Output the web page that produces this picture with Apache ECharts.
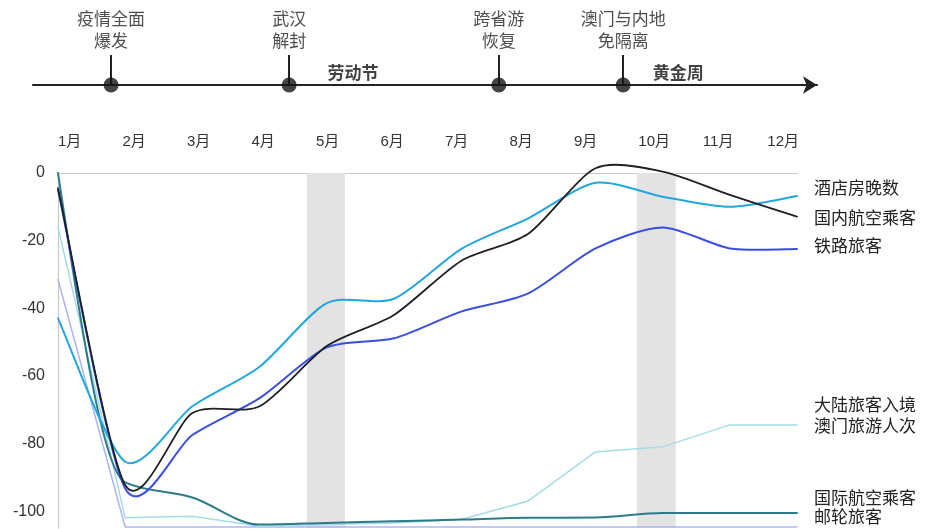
<!DOCTYPE html>
<html>
<head>
<meta charset="utf-8">
<script src="https://cdn.jsdelivr.net/npm/echarts@6/dist/echarts.min.js"></script>
<style>
  html, body { margin: 0; padding: 0; background: #ffffff; }
  #chart { width: 941px; height: 529px; }
</style>
</head>
<body>
<div id="chart"></div>
<script>
// Month index of each data point (0 = 1月 … 11 = 12月)
const monthIndex = [0, 1, 2, 3, 4, 5, 6, 7, 8, 9, 10, 11];
const monthLabels = ['1月', '2月', '3月', '4月', '5月', '6月', '7月', '8月', '9月', '10月', '11月', '12月'];

// Year-on-year change, %
const hotelNights   = [-43, -85.4, -69, -57.3, -38.5, -37.2, -22.5, -13.4, -2.9, -7, -10, -6.8];
const domesticAir   = [-4.5, -92.3, -71, -69, -51.2, -42, -26, -18, 1.4, 0.4, -6.5, -12.9];
const railPassenger = [-5, -93.3, -77.5, -66.6, -51.6, -48.9, -41, -35.6, -22.3, -16.1, -22.3, -22.5];
const macauVisitors = [-16, -102, -101.5, -104.5, -104, -103.5, -102.5, -97, -82.5, -81, -74.5, -74.5];
const intlAir       = [0, -91.5, -96, -104, -103.5, -103, -102.5, -102, -101.9, -100.6, -100.6, -100.6];
const cruise        = [-31.5, -104.7, -104.7, -104.7, -104.7, -104.7, -104.7, -104.7, -104.7, -104.7, -104.7, -104.7];

const yTicks = [0, -20, -40, -60, -80, -100];

// Timeline events (position in months from the start of January)
const eventNames = ['疫情全面\n爆发', '武汉\n解封', '跨省游\n恢复', '澳门与内地\n免隔离'];
const eventPos   = [0.79, 3.44, 6.56, 8.41];

// Holiday periods
const holidayNames  = ['劳动节', '黄金周'];
const holidayLabelX = [4.39, 9.23];
const holidayBands  = [[3.705, 4.271], [8.616, 9.196]];

const FONT = "'Liberation Sans', 'Noto Sans CJK SC', sans-serif";
const CJK = "'Noto Sans CJK SC', sans-serif";

// Cardinal-spline tension used for the smoothed curves
const TENSION = 0.13;

function pairs(values) {
  return monthIndex.map((m, i) => [m, values[i]]);
}

// Cardinal spline through pixel points
function cardinalPath(pts) {
  let d = 'M' + pts[0][0] + ',' + pts[0][1];
  const n = pts.length;
  for (let i = 0; i < n - 1; i++) {
    const p0 = pts[Math.max(i - 1, 0)];
    const p1 = pts[i];
    const p2 = pts[i + 1];
    const p3 = pts[Math.min(i + 2, n - 1)];
    const c1x = p1[0] + TENSION * (p2[0] - p0[0]);
    const c1y = p1[1] + TENSION * (p2[1] - p0[1]);
    const c2x = p2[0] - TENSION * (p3[0] - p1[0]);
    const c2y = p2[1] - TENSION * (p3[1] - p1[1]);
    d += ' C' + c1x + ',' + c1y + ' ' + c2x + ',' + c2y + ' ' + p2[0] + ',' + p2[1];
  }
  return d;
}

// Monotone cubic (no overshoot) through pixel points
function monotonePath(pts) {
  const n = pts.length;
  const sgn = v => (v < 0 ? -1 : 1);
  const sec = [];
  for (let i = 0; i < n - 1; i++) {
    sec.push((pts[i + 1][1] - pts[i][1]) / (pts[i + 1][0] - pts[i][0]));
  }
  const t = new Array(n);
  for (let i = 1; i < n - 1; i++) {
    const h0 = pts[i][0] - pts[i - 1][0];
    const h1 = pts[i + 1][0] - pts[i][0];
    const s0 = sec[i - 1], s1 = sec[i];
    const p = (s0 * h1 + s1 * h0) / (h0 + h1);
    t[i] = (sgn(s0) + sgn(s1)) * Math.min(Math.abs(s0), Math.abs(s1), 0.5 * Math.abs(p)) || 0;
  }
  t[0] = (3 * sec[0] - t[1]) / 2;
  t[n - 1] = (3 * sec[n - 2] - t[n - 2]) / 2;
  let d = 'M' + pts[0][0] + ',' + pts[0][1];
  for (let i = 0; i < n - 1; i++) {
    const dx = (pts[i + 1][0] - pts[i][0]) / 3;
    d += ' C' + (pts[i][0] + dx) + ',' + (pts[i][1] + dx * t[i]) + ' ' +
         (pts[i + 1][0] - dx) + ',' + (pts[i + 1][1] - dx * t[i + 1]) + ' ' +
         pts[i + 1][0] + ',' + pts[i + 1][1];
  }
  return d;
}

function linearPath(pts) {
  return pts.map((p, i) => (i ? 'L' : 'M') + p[0] + ',' + p[1]).join(' ');
}

function buildPath(pts, curve) {
  if (curve === 'cardinal') return cardinalPath(pts);
  if (curve === 'monotone') return monotonePath(pts);
  return linearPath(pts);
}

function curveSeries(name, values, color, width, curve, labelText, dy) {
  return {
    name: name,
    type: 'custom',
    xAxisIndex: 0,
    yAxisIndex: 0,
    data: pairs(values),
    encode: { x: 0, y: 1 },
    clip: false,
    silent: true,
    z: 3,
    renderItem: function (params, api) {
      if (params.dataIndex !== 0) return null;
      const pts = monthIndex.map((m, i) => api.coord([m, values[i]]));
      const last = pts[pts.length - 1];
      return {
        type: 'group',
        children: [
          {
            type: 'path',
            shape: { pathData: buildPath(pts, curve) },
            style: { fill: 'none', stroke: color, lineWidth: width, lineJoin: 'round', lineCap: 'round' }
          },
          {
            type: 'text',
            x: last[0] + 17,
            y: last[1] + dy,
            style: {
              text: labelText,
              fill: '#222',
              fontFamily: CJK,
              fontSize: 17,
              lineHeight: 21,
              align: 'left',
              verticalAlign: 'middle'
            }
          }
        ]
      };
    }
  };
}

const chart = echarts.init(document.getElementById('chart'), null, { renderer: 'canvas' });

const series = [
  {
    // holiday shading
    type: 'line',
    xAxisIndex: 0,
    yAxisIndex: 0,
    data: [],
    silent: true,
    markArea: {
      silent: true,
      itemStyle: { color: '#e3e3e3' },
      data: holidayBands.map(b => [{ xAxis: b[0] }, { xAxis: b[1] }])
    },
    z: 1
  },
  curveSeries('邮轮旅客', cruise, '#aab6f3', 1.5, 'linear', '邮轮旅客', -10),
  curveSeries('大陆旅客入境澳门旅游人次', macauVisitors, '#a6dbe6', 1.5, 'linear', '大陆旅客入境\n澳门旅游人次', -10),
  curveSeries('国际航空乘客', intlAir, '#2b7b88', 2, 'monotone', '国际航空乘客', -16),
  curveSeries('铁路旅客', railPassenger, '#3a4ee0', 2, 'cardinal', '铁路旅客', -4),
  curveSeries('酒店房晚数', hotelNights, '#22a6e0', 2, 'cardinal', '酒店房晚数', -8),
  curveSeries('国内航空乘客', domesticAir, '#1b2126', 1.8, 'cardinal', '国内航空乘客', 1),
  {
    // timeline event dots + stems
    type: 'scatter',
    xAxisIndex: 2,
    yAxisIndex: 1,
    data: eventPos.map(p => [p, 0]),
    symbol: 'circle',
    symbolSize: 15,
    itemStyle: { color: '#151515' },
    silent: true,
    z: 5,
    markLine: {
      silent: true,
      symbol: 'none',
      label: { show: false },
      lineStyle: { color: '#222', width: 2, type: 'solid' },
      data: eventPos.map(p => [{ coord: [p, 0] }, { coord: [p, 1] }])
    }
  },
  {
    // timeline event captions
    type: 'scatter',
    xAxisIndex: 2,
    yAxisIndex: 1,
    data: eventPos.map((p, i) => ({ value: [p, 1], name: eventNames[i] })),
    symbolSize: 0,
    silent: true,
    label: {
      show: true,
      position: 'top',
      distance: 3,
      formatter: p => p.name,
      color: '#222',
      fontFamily: CJK,
      fontSize: 17,
      lineHeight: 22,
      align: 'center'
    }
  },
  {
    // holiday captions
    type: 'scatter',
    xAxisIndex: 2,
    yAxisIndex: 1,
    data: holidayLabelX.map((p, i) => ({ value: [p, 0.43], name: holidayNames[i] })),
    symbolSize: 0,
    silent: true,
    label: {
      show: true,
      position: 'inside',
      formatter: p => p.name,
      color: '#111',
      fontFamily: CJK,
      fontSize: 17,
      fontWeight: 'bold'
    }
  }
];

chart.setOption({
  animation: false,
  backgroundColor: '#ffffff',
  grid: [
    { left: 58, right: 144, top: 173, bottom: 1, containLabel: false },
    { left: 33, right: 124, top: 55, height: 30, containLabel: false }
  ],
  xAxis: [
    {
      // data axis
      type: 'value',
      gridIndex: 0,
      position: 'top',
      min: 0,
      max: 11,
      axisLine: { show: true, onZero: false, lineStyle: { color: '#c9c9c9', width: 1.2 } },
      axisTick: { show: false },
      axisLabel: { show: false },
      splitLine: { show: false }
    },
    {
      // month labels
      type: 'value',
      gridIndex: 0,
      position: 'top',
      min: 0,
      max: 11.46,
      interval: 1,
      axisLine: { show: false },
      axisTick: { show: false },
      splitLine: { show: false },
      axisLabel: {
        show: true,
        margin: 24,
        align: 'left',
        color: '#333',
        fontFamily: FONT,
        fontSize: 15,
        showMaxLabel: false,
        formatter: v => (Number.isInteger(v) && monthLabels[v]) ? monthLabels[v] : ''
      }
    },
    {
      // timeline axis
      type: 'value',
      gridIndex: 1,
      position: 'bottom',
      min: -0.372,
      max: 11.295,
      axisLine: {
        show: true,
        onZero: false,
        symbol: ['none', 'arrow'],
        symbolSize: [13, 14],
        lineStyle: { color: '#222', width: 2 }
      },
      axisTick: { show: false },
      axisLabel: { show: false },
      splitLine: { show: false }
    }
  ],
  yAxis: [
    {
      type: 'value',
      gridIndex: 0,
      min: -105,
      max: 0,
      axisLine: { show: true, onZero: false, lineStyle: { color: '#c9c9c9', width: 1.2 } },
      axisTick: { show: false },
      splitLine: { show: false },
      axisLabel: {
        show: true,
        customValues: yTicks,
        margin: 13,
        padding: [5, 0, 0, 0],
        color: '#333',
        fontFamily: FONT,
        fontSize: 16
      }
    },
    {
      type: 'value',
      gridIndex: 1,
      min: 0,
      max: 1,
      show: false
    }
  ],
  series: series
});
</script>
</body>
</html>
